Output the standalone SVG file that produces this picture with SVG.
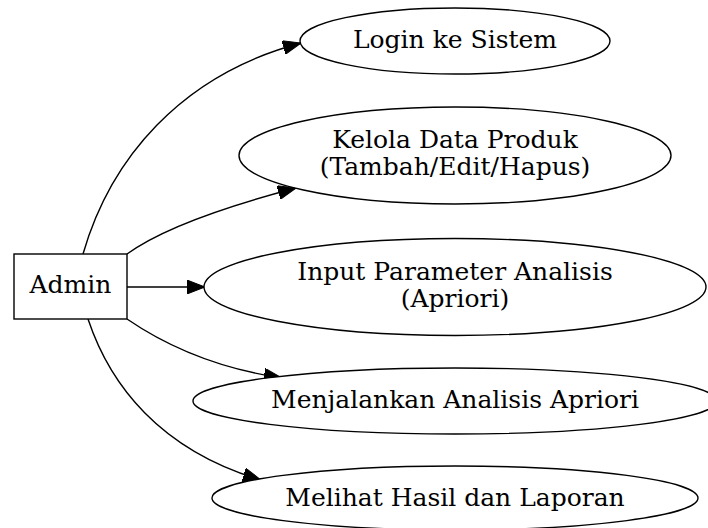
<svg xmlns="http://www.w3.org/2000/svg" width="708" height="528" viewBox="0 0 708 528">
<style>
.n{fill:#fff;stroke:#000;stroke-width:1.4}
.t{font-family:"DejaVu Serif",serif;font-size:25px;fill:#000;text-anchor:middle}
.e{fill:none;stroke:#000;stroke-width:1.4}
</style>
<defs>
<marker id="ah" markerUnits="userSpaceOnUse" markerWidth="20" markerHeight="14" refX="18" refY="7" orient="auto">
<path d="M0,0 L18,7 L0,14 Z" fill="#000" stroke="#000" stroke-width="1"/>
</marker>
</defs>
<rect width="708" height="528" fill="#fff"/>
<g id="connectors">
<path class="e" d="M83,254 C110,160 180,75 301,43" marker-end="url(#ah)"/>
<path class="e" d="M127,254 C160,230 220,208 296,188" marker-end="url(#ah)"/>
<path class="e" d="M127,287 L205,287" marker-end="url(#ah)"/>
<path class="e" d="M127,319 C165,345 215,368 282,378" marker-end="url(#ah)"/>
<path class="e" d="M88,319 C110,385 160,450 261,480" marker-end="url(#ah)"/>
</g>
<g id="admin">
<rect class="n" x="14" y="254" width="113" height="65"/>
<text class="t" x="70.5" y="293">Admin</text>
</g>
<g id="login">
<ellipse class="n" cx="455" cy="41" rx="155" ry="33"/>
<text class="t" x="455" y="48">Login ke Sistem</text>
</g>
<g id="kelola">
<ellipse class="n" cx="455" cy="155.5" rx="216" ry="48.5"/>
<text class="t" x="455" y="148">Kelola Data Produk</text>
<text class="t" x="455" y="175">(Tambah/Edit/Hapus)</text>
</g>
<g id="input">
<ellipse class="n" cx="455" cy="287" rx="251" ry="48.5"/>
<text class="t" x="455" y="280">Input Parameter Analisis</text>
<text class="t" x="455" y="307">(Apriori)</text>
</g>
<g id="menjalankan">
<ellipse class="n" cx="455" cy="401" rx="262" ry="33"/>
<text class="t" x="455" y="408">Menjalankan Analisis Apriori</text>
</g>
<g id="melihat">
<ellipse class="n" cx="455" cy="498" rx="243" ry="32"/>
<text class="t" x="455" y="506">Melihat Hasil dan Laporan</text>
</g>
</svg>
